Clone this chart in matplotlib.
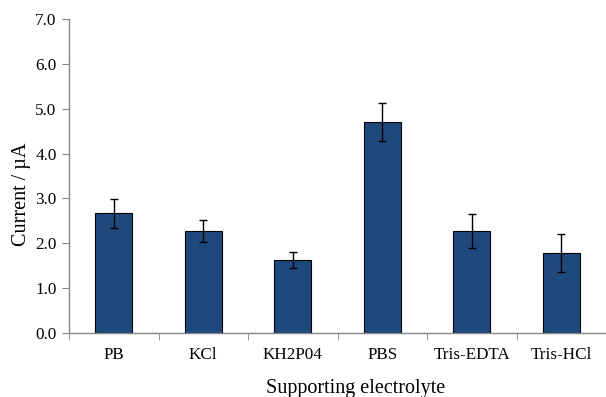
import matplotlib
matplotlib.use("Agg")
import matplotlib.pyplot as plt
import numpy as np

# supporting electrolyte data
electrolytes = ["PB", "KCl", "KH2P04", "PBS", "Tris-EDTA", "Tris-HCl"]
current = [2.67, 2.27, 1.63, 4.70, 2.27, 1.78]
errors = [0.32, 0.24, 0.18, 0.42, 0.38, 0.43]

plt.rcParams["font.family"] = ["Liberation Serif", "DejaVu Serif"]

fig = plt.figure(figsize=(6.06, 3.97), dpi=100)
ax = fig.add_axes([69 / 606, 1 - 333 / 397, 1 - 69 / 606, (333 - 19) / 397])

x = np.arange(len(electrolytes))
ax.bar(x, current, width=0.41, color="#1F497D", edgecolor="black", linewidth=0.8,
       yerr=errors, error_kw=dict(ecolor="black", elinewidth=1, capsize=3, capthick=1),
       zorder=2)

ax.set_ylim(0, 7)
ax.set_yticks(np.arange(0, 7.1, 1.0))
ax.set_yticklabels(["%.1f" % v for v in np.arange(0, 7.1, 1.0)])
ax.set_xlim(-0.5, 5.48)

# categories labelled at centres, tick marks at boundaries
ax.set_xticks(x)
ax.set_xticklabels(electrolytes)
ax.set_xticks(np.arange(-0.5, 6, 1.0), minor=True)
ax.tick_params(axis="x", which="major", length=0, pad=10)
ax.tick_params(axis="x", which="minor", length=5, color="#868686", direction="out")
ax.tick_params(axis="y", length=5, color="#868686", direction="out", pad=4)
ax.tick_params(labelsize=12.3)

for s in ["top", "right"]:
    ax.spines[s].set_visible(False)
for s in ["left", "bottom"]:
    ax.spines[s].set_color("#868686")
    ax.spines[s].set_linewidth(1)

ax.set_ylabel("Current / µA", fontsize=14.5)
ax.set_xlabel("Supporting electrolyte", fontsize=14.5)
ax.yaxis.set_label_coords(-0.071, 0.443)
ax.xaxis.set_label_coords(0.534, -0.148)

fig.savefig("out.png", dpi=100)
